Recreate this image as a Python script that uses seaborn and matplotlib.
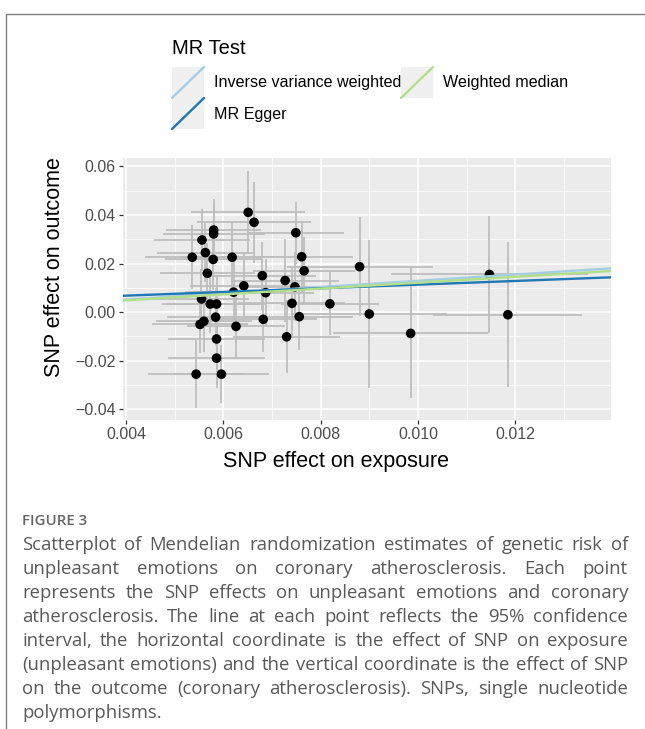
import numpy as np
import pandas as pd
import matplotlib
matplotlib.use("Agg")
import matplotlib.pyplot as plt
from matplotlib.lines import Line2D
from matplotlib.patches import Rectangle
import seaborn as sns

# ---------------- data ----------------
snp_bx = [0.00651, 0.00663, 0.00749, 0.00580, 0.00580, 0.00556, 0.00563, 0.00536,
          0.00579, 0.00618, 0.00761, 0.00766, 0.00880, 0.00567, 0.00680, 0.00727,
          0.00642, 0.00747, 0.00621, 0.00687, 0.00555, 0.00573, 0.00586, 0.00741,
          0.00819, 0.00584, 0.00682, 0.00756, 0.00900, 0.00560, 0.00552, 0.00626,
          0.00730, 0.00586, 0.00985, 0.00586, 0.00544, 0.00596, 0.01147, 0.01185]
snp_by = [0.0411, 0.0370, 0.0327, 0.0338, 0.0322, 0.0297, 0.0245, 0.0226,
          0.0217, 0.0226, 0.0228, 0.0170, 0.0187, 0.0160, 0.0150, 0.0130,
          0.0108, 0.0104, 0.0082, 0.0080, 0.0054, 0.0033, 0.0033, 0.0036,
          0.0034, -0.0021, -0.0030, -0.0019, -0.0008, -0.0038, -0.0051, -0.0059,
          -0.0102, -0.0111, -0.0088, -0.0190, -0.0256, -0.0256, 0.0155, -0.0011]
ci_bx = [0.00117, 0.00118, 0.00100, 0.00097, 0.00105, 0.00098, 0.00099, 0.00097,
         0.00100, 0.00105, 0.00105, 0.00105, 0.00150, 0.00097, 0.00110, 0.00110,
         0.00110, 0.00110, 0.00100, 0.00100, 0.00098, 0.00100, 0.00100, 0.00110,
         0.00100, 0.00100, 0.00110, 0.00110, 0.00160, 0.00098, 0.00098, 0.00100,
         0.00110, 0.00100, 0.00160, 0.00100, 0.00098, 0.00098, 0.00203, 0.00153]
ci_by = [0.0169, 0.0167, 0.0128, 0.0127, 0.0125, 0.0126, 0.0122, 0.0133,
         0.0128, 0.0151, 0.0144, 0.0140, 0.0204, 0.0125, 0.0140, 0.0170,
         0.0141, 0.0142, 0.0135, 0.0140, 0.0125, 0.0120, 0.0120, 0.0145,
         0.0130, 0.0120, 0.0134, 0.0138, 0.0306, 0.0125, 0.0118, 0.0132,
         0.0150, 0.0125, 0.0268, 0.0125, 0.0141, 0.0120, 0.0241, 0.0299]

methods = ["Inverse variance weighted", "MR Egger", "Weighted median"]
method_intercepts = [0.0, 0.00373, 0.0]
method_slopes = [1.289, 0.757, 1.210]
method_colors = ["#A6CEE3", "#1F78B4", "#B2DF8A"]

x_ticks = [0.004, 0.006, 0.008, 0.010, 0.012]
x_ticklabels = ["0.004", "0.006", "0.008", "0.010", "0.012"]
y_ticks = [-0.04, -0.02, 0.00, 0.02, 0.04, 0.06]
y_ticklabels = ["\u22120.04", "\u22120.02", "0.00", "0.02", "0.04", "0.06"]

x_title = "SNP effect on exposure"
y_title = "SNP effect on outcome"
legend_title = "MR Test"

fig_label = "FIGURE 3"
caption_lines = [
    "Scatterplot of Mendelian randomization estimates of genetic risk of",
    "unpleasant emotions on coronary atherosclerosis. Each point",
    "represents the SNP effects on unpleasant emotions and coronary",
    "atherosclerosis. The line at each point reflects the 95% confidence",
    "interval, the horizontal coordinate is the effect of SNP on exposure",
    "(unpleasant emotions) and the vertical coordinate is the effect of SNP",
    "on the outcome (coronary atherosclerosis). SNPs, single nucleotide",
    "polymorphisms.",
]

df = pd.DataFrame({"bx": snp_bx, "by": snp_by, "cx": ci_bx, "cy": ci_by})

# ---------------- figure ----------------
sns.set_theme(style="darkgrid")
plt.rcParams["font.family"] = ["Liberation Sans", "DejaVu Sans"]

W, H = 645, 729
fig = plt.figure(figsize=(W / 100, H / 100), dpi=100)
fig.patch.set_facecolor("white")

def fx(px):
    return px / W

def fy(py):
    return 1 - py / H

# panel
pl, pr, pt, pb = 122.7, 611, 158, 420
ax = fig.add_axes([fx(pl), fy(pb), (pr - pl) / W, (pb - pt) / H])
ax.set_facecolor("#EBEBEB")
for s in ax.spines.values():
    s.set_visible(False)

ax.errorbar(df["bx"], df["by"], xerr=df["cx"], yerr=df["cy"], fmt="none",
            ecolor="#BEBEBE", elinewidth=1.3, capsize=0, zorder=2)
sns.scatterplot(data=df, x="bx", y="by", ax=ax, color="black", s=48,
                edgecolor="none", linewidth=0, zorder=3, legend=False)
for a, b, c in zip(method_intercepts, method_slopes, method_colors):
    ax.axline((0, a), slope=b, color=c, lw=1.7, zorder=4)

ax.set_xlim(0.00393, 0.01397)
ax.set_ylim(-0.0445, 0.0635)
ax.set_xticks(x_ticks)
ax.set_xticklabels(x_ticklabels)
ax.set_yticks(y_ticks)
ax.set_yticklabels(y_ticklabels)
ax.set_xticks([0.005, 0.007, 0.009, 0.011, 0.013], minor=True)
ax.set_yticks([-0.03, -0.01, 0.01, 0.03, 0.05], minor=True)
ax.grid(which="major", color="white", lw=1.1)
ax.grid(which="minor", color="white", lw=0.55)
ax.tick_params(which="major", length=3, width=0.9, color="#333333",
               labelcolor="#4D4D4D", labelsize=11.5, pad=2,
               bottom=True, left=True)
ax.tick_params(which="minor", length=0, bottom=False, left=False)
ax.set_xlabel("")
ax.set_ylabel("")

fig.text(fx(336), fy(461), x_title, ha="center", va="center", fontsize=15.5, color="black")
fig.text(fx(55), fy(267), y_title, ha="center", va="center", rotation=90,
         fontsize=15.5, color="black")

# ---------------- legend ----------------
fig.text(fx(172), fy(48), legend_title, ha="left", va="center", fontsize=14.5, color="black")
key_pos = [(172, 67), (172, 98), (401, 67)]
label_pos = [(214, 82), (214, 114), (443, 82)]
kw, kh = 32, 31
for (kx, ky), (lx, ly), name, col in zip(key_pos, label_pos, methods, method_colors):
    fig.add_artist(Rectangle((fx(kx), fy(ky + kh)), kw / W, kh / H,
                             facecolor="#F0F0F0", edgecolor="none",
                             transform=fig.transFigure))
    fig.add_artist(Line2D([fx(kx), fx(kx + kw)], [fy(ky + kh), fy(ky)],
                          color=col, lw=1.7, transform=fig.transFigure))
    fig.text(fx(lx), fy(ly), name, ha="left", va="center", fontsize=11.6, color="black")

# frame lines
fig.add_artist(Line2D([fx(6), fx(645)], [fy(14), fy(14)], color="#7F7F7F", lw=1.0,
                      transform=fig.transFigure))
fig.add_artist(Line2D([fx(6), fx(6)], [fy(14), fy(729)], color="#7F7F7F", lw=1.0,
                      transform=fig.transFigure))

# ---------------- caption ----------------
cap_color = "#595959"
cap_font = ["Open Sans", "DejaVu Sans"]
fig.text(fx(22), fy(521), fig_label, ha="left", va="center", fontsize=10.8,
         color="#666666", family=cap_font, weight="semibold")

line_y = [545, 569, 593, 617, 641, 665, 689, 713]
left_px, right_px = 22, 628
cap_size = 13.3
renderer = fig.canvas.get_renderer()
for i, (line, ly) in enumerate(zip(caption_lines, line_y)):
    if i == len(caption_lines) - 1:
        fig.text(fx(left_px), fy(ly), line, ha="left", va="center",
                 fontsize=cap_size, color=cap_color, family=cap_font)
        continue
    words = line.split(" ")
    texts = []
    widths = []
    for w in words:
        t = fig.text(0, fy(ly), w, ha="left", va="center", fontsize=cap_size,
                     color=cap_color, family=cap_font)
        bb = t.get_window_extent(renderer=renderer)
        texts.append(t)
        widths.append(bb.width)
    total = sum(widths)
    gap = (right_px - left_px - total) / (len(words) - 1)
    xcur = left_px
    for t, wdt in zip(texts, widths):
        t.set_x(fx(xcur))
        xcur += wdt + gap

fig.savefig("out.png", dpi=100, facecolor="white")
